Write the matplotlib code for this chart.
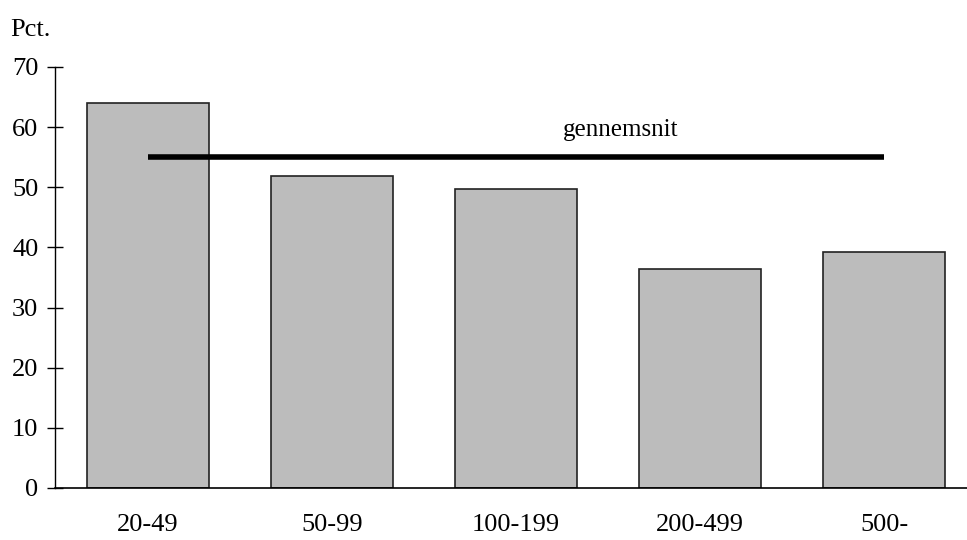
import matplotlib as mpl
import matplotlib.pyplot as plt
import numpy as np

mpl.rc('font', family='Liberation Serif', size=19)

categories = ['20-49', '50-99', '100-199', '200-499', '500-']
values = [64.0, 51.9, 49.7, 36.4, 39.3]
average = 55.0
yticks = [0, 10, 20, 30, 40, 50, 60, 70]

fig = plt.figure(figsize=(9.67, 5.4), dpi=100)
ax = fig.add_axes([55/967, 1 - 488/540, 1 - 55/967, (488 - 67)/540])

x = np.arange(len(categories))
ax.bar(x, values, width=0.66, color='#bcbcbc', edgecolor='#222222', linewidth=1.2)
ax.plot([x[0], x[-1]], [average, average], color='black', lw=4, solid_capstyle='butt')
ax.text(2.57, 59.6, 'gennemsnit', ha='center', va='center', fontsize=18)

ax.set_xlim(-0.505, 4.45)
ax.set_ylim(0, 70)
ax.set_yticks(yticks)
ax.set_xticks(x)
ax.set_xticklabels(categories)
ax.tick_params(axis='x', length=0, pad=19)
ax.tick_params(axis='y', direction='inout', length=12, width=1, pad=6)
for s in ['top', 'right']:
    ax.spines[s].set_visible(False)
ax.spines['left'].set_linewidth(1)
ax.spines['bottom'].set_linewidth(1.2)

fig.text(10/967, 1 - 30/540, 'Pct.', ha='left', va='center', fontsize=19)

fig.savefig('out.png', dpi=100)
